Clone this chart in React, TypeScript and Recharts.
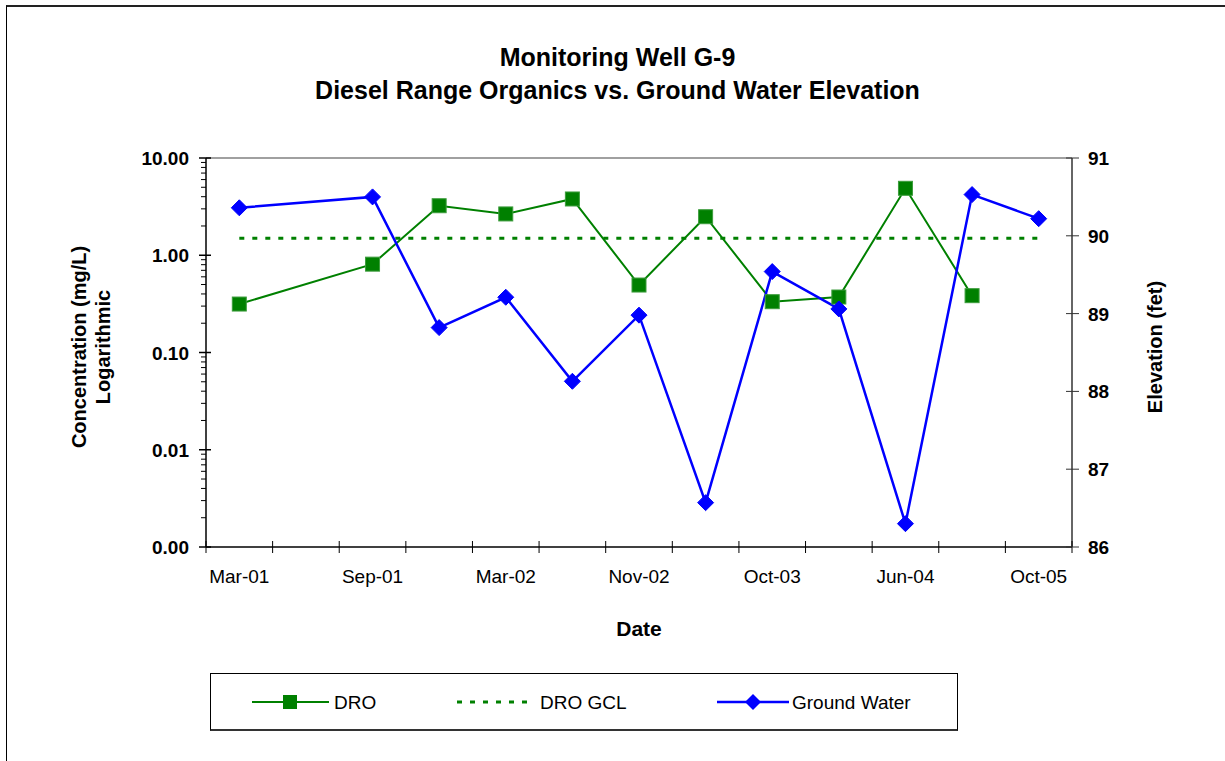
import React from "react";
import { LineChart, Line, XAxis, YAxis, ReferenceLine } from "recharts";

const FONT = "'Liberation Sans', Arial, Helvetica, sans-serif";

// 13 sample slots, only every other one carries a label
const dates = ["Mar-01", "", "Sep-01", "", "Mar-02", "", "Nov-02", "", "Oct-03", "", "Jun-04", "", "Oct-05"];
const dro = [0.315, null, 0.81, 3.23, 2.66, 3.79, 0.494, 2.49, 0.333, 0.372, 4.88, 0.384, null];
const droGcl = [1.5, 1.5, 1.5, 1.5, 1.5, 1.5, 1.5, 1.5, 1.5, 1.5, 1.5, 1.5, 1.5];
const groundWater = [90.36, null, 90.5, 88.82, 89.21, 88.13, 88.98, 86.57, 89.54, 89.06, 86.3, 90.53, 90.22];

const concMajor = [0.001, 0.01, 0.1, 1, 10];
const minorSteps = [2, 3, 4, 5, 6, 7, 8, 9];
const elevTicks = [86, 87, 88, 89, 90, 91];

const data = dates.map((d, i) => ({
  idx: i,
  date: d,
  dro: dro[i],
  gcl: droGcl[i],
  gw: groundWater[i],
}));

// log minor ticks between the decades
const concTicks: number[] = [];
concMajor.forEach((m, i) => {
  concTicks.push(m);
  if (i < concMajor.length - 1) minorSteps.forEach((s) => concTicks.push(+(m * s).toPrecision(3)));
});

// x ticks: boundaries between slots + slot centres for the labels
const xTicks: number[] = [];
for (let i = 0; i <= dates.length; i++) {
  xTicks.push(i - 0.5);
  if (i < dates.length) xTicks.push(i);
}

const isMajor = (v: number) => concMajor.some((m) => Math.abs(m - v) < 1e-9);

const LeftTick = (props: any) => {
  const { x, y, payload } = props;
  const v = payload.value;
  if (!isMajor(v)) {
    return <line x1={x - 5} x2={x} y1={y} y2={y} stroke="#000" strokeWidth={1} />;
  }
  return (
    <g>
      <line x1={x - 7} x2={x + 5} y1={y} y2={y} stroke="#000" strokeWidth={1.5} />
      <text x={x - 17} y={y + 7} textAnchor="end" fontFamily={FONT} fontSize={19} fontWeight="bold" fill="#000">
        {v.toFixed(2)}
      </text>
    </g>
  );
};

const RightTick = (props: any) => {
  const { x, y, payload } = props;
  return (
    <g>
      <line x1={x - 6} x2={x + 7} y1={y} y2={y} stroke="#333" strokeWidth={1} />
      <text x={x + 16} y={y + 7} textAnchor="start" fontFamily={FONT} fontSize={19} fontWeight="bold" fill="#000">
        {payload.value}
      </text>
    </g>
  );
};

const BottomTick = (props: any) => {
  const { x, y, payload } = props;
  const v = payload.value;
  if (!Number.isInteger(v)) {
    return <line x1={x} x2={x} y1={y - 6} y2={y + 6} stroke="#000" strokeWidth={1} />;
  }
  const label = dates[v];
  if (!label) return <g />;
  return (
    <text x={x} y={y + 36} textAnchor="middle" fontFamily={FONT} fontSize={19} fill="#000">
      {label}
    </text>
  );
};

const SquareDot = (props: any) => {
  const { cx, cy, index } = props;
  if (cx == null || cy == null) return <g key={index} />;
  return <rect key={index} x={cx - 7} y={cy - 7} width={14} height={14} fill="#008000" stroke="#3c9c3c" strokeWidth={1} />;
};

const DiamondDot = (props: any) => {
  const { cx, cy, index } = props;
  if (cx == null || cy == null) return <g key={index} />;
  return (
    <path
      key={index}
      d={`M${cx},${cy - 8} L${cx + 8},${cy} L${cx},${cy + 8} L${cx - 8},${cy} Z`}
      fill="#0000FF"
      stroke="#0000FF"
      strokeWidth={1}
    />
  );
};

export default function App() {
  return (
    <div style={{ position: "absolute", left: 0, top: 0, width: 1225, height: 761, background: "#fff", fontFamily: FONT, overflow: "hidden" }}>
      {/* outer chart frame */}
      <div style={{ position: "absolute", left: 6, top: 5, width: 1240, height: 780, borderTop: "2px solid #222", borderLeft: "1px solid #000" }} />

      <LineChart
        width={1225}
        height={761}
        data={data}
        margin={{ top: 158, right: 93, bottom: 184, left: 146 }}
        style={{ position: "absolute", left: 0, top: 0 }}
      >
        <XAxis
          dataKey="idx"
          type="number"
          domain={[-0.5, dates.length - 0.5]}
          ticks={xTicks}
          interval={0}
          tick={BottomTick}
          tickLine={false}
          tickSize={0}
          tickMargin={0}
          height={30}
          axisLine={{ stroke: "#000", strokeWidth: 1.5 }}
        />
        <YAxis
          yAxisId="left"
          scale="log"
          domain={[0.001, 10]}
          allowDataOverflow
          ticks={concTicks}
          interval={0}
          tick={LeftTick}
          tickLine={false}
          tickSize={0}
          tickMargin={0}
          width={60}
          axisLine={{ stroke: "#000", strokeWidth: 1.5 }}
        />
        <YAxis
          yAxisId="right"
          orientation="right"
          domain={[86, 91]}
          ticks={elevTicks}
          interval={0}
          tick={RightTick}
          tickLine={false}
          tickSize={0}
          tickMargin={0}
          width={60}
          axisLine={{ stroke: "#333", strokeWidth: 1.5 }}
        />
        <ReferenceLine yAxisId="left" y={10} stroke="#808080" strokeWidth={1.5} />
        <Line
          yAxisId="left"
          dataKey="gcl"
          stroke="#008000"
          strokeWidth={3}
          strokeDasharray="5 8"
          dot={false}
          activeDot={false}
          isAnimationActive={false}
        />
        <Line
          yAxisId="left"
          dataKey="dro"
          stroke="#008000"
          strokeWidth={2}
          connectNulls
          dot={SquareDot}
          activeDot={false}
          isAnimationActive={false}
        />
        <Line
          yAxisId="right"
          dataKey="gw"
          stroke="#0000FF"
          strokeWidth={2.5}
          connectNulls
          dot={DiamondDot}
          activeDot={false}
          isAnimationActive={false}
        />
      </LineChart>

      {/* titles */}
      <div style={{ position: "absolute", left: 0, width: 1235, top: 41, textAlign: "center", fontSize: 25, fontWeight: "bold", lineHeight: "33px" }}>
        Monitoring Well G-9
        <br />
        Diesel Range Organics vs. Ground Water Elevation
      </div>
      <div style={{ position: "absolute", left: 0, width: 1278, top: 616, textAlign: "center", fontSize: 21, fontWeight: "bold", lineHeight: "26px" }}>
        Date
      </div>
      <div
        style={{
          position: "absolute",
          left: 92 - 150,
          top: 347 - 25,
          width: 300,
          height: 50,
          transform: "rotate(-90deg)",
          textAlign: "center",
          fontSize: 20,
          fontWeight: "bold",
          lineHeight: "24px",
        }}
      >
        Concentration (mg/L)
        <br />
        Logarithmic
      </div>
      <div
        style={{
          position: "absolute",
          left: 1155 - 150,
          top: 347 - 13,
          width: 300,
          height: 26,
          transform: "rotate(-90deg)",
          textAlign: "center",
          fontSize: 20,
          fontWeight: "bold",
          lineHeight: "26px",
        }}
      >
        Elevation (fet)
      </div>

      {/* legend */}
      <div style={{ position: "absolute", left: 210, top: 673, width: 746, height: 55, border: "1px solid #000", borderBottom: "2px solid #333", background: "#fff" }}>
        <svg width={746} height={55} style={{ position: "absolute", left: 0, top: 0 }}>
          <line x1={41} x2={118} y1={28} y2={28} stroke="#008000" strokeWidth={2} />
          <rect x={72} y={21} width={14} height={14} fill="#008000" />
          <text x={123} y={35} fontFamily={FONT} fontSize={19} fill="#000">DRO</text>
          <line x1={246} x2={320} y1={28} y2={28} stroke="#008000" strokeWidth={3} strokeDasharray="5 8" />
          <text x={329} y={35} fontFamily={FONT} fontSize={19} fill="#000">DRO GCL</text>
          <line x1={506} x2={578} y1={28} y2={28} stroke="#0000FF" strokeWidth={2.5} />
          <path d="M542,20 L550,28 L542,36 L534,28 Z" fill="#0000FF" />
          <text x={581} y={35} fontFamily={FONT} fontSize={19} fill="#000">Ground Water</text>
        </svg>
      </div>
    </div>
  );
}
